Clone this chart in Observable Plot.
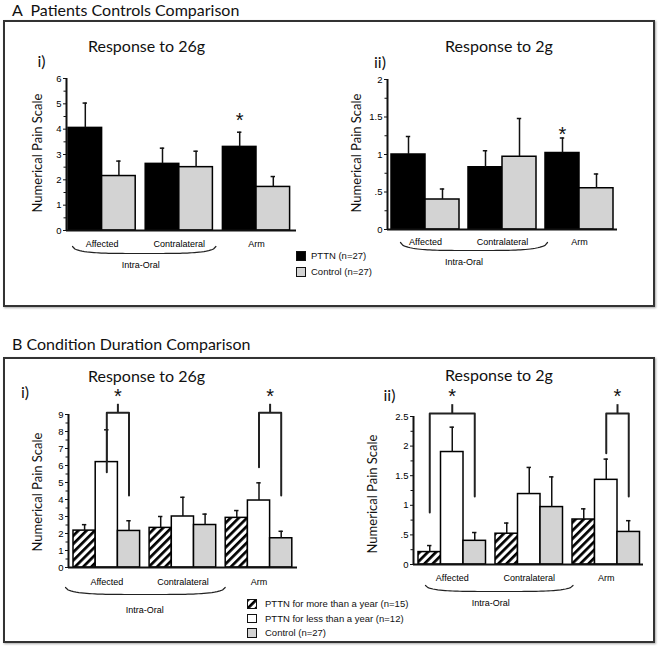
<!DOCTYPE html>
<html><head><meta charset="utf-8">
<script src="https://cdn.jsdelivr.net/npm/d3@7"></script>
<script src="https://cdn.jsdelivr.net/npm/@observablehq/plot@0.6"></script>
<style>
body{margin:0;background:#fff;}
#fig{position:relative;width:658px;height:647px;overflow:hidden;font-family:Lato,"Open Sans",sans-serif;color:#111;background:#fff;}
.abs{position:absolute;white-space:pre;line-height:1;}
.box{position:absolute;border:2px solid #333;box-sizing:border-box;box-shadow:1px 1px 2px rgba(0,0,0,.35);pointer-events:none;}
.head{font-size:16px;transform:translateY(-50%);}
.sub{font-size:16px;transform:translate(-50%,-50%);}
.ylab{font-size:13px;transform:translate(-50%,-50%) rotate(-90deg);}
.leg{font-family:"Liberation Sans",Arial,sans-serif;font-size:9.5px;transform:translateY(-50%);}
.sw{position:absolute;box-sizing:border-box;border:1.5px solid #111;}
</style></head>
<body>
<svg width="0" height="0" style="position:absolute">
  <defs>
    <pattern id="hatch" patternUnits="userSpaceOnUse" width="5.8" height="5.8" patternTransform="rotate(45)">
      <rect width="5.8" height="5.8" fill="#fff"></rect>
      <rect x="0" y="0" width="2.7" height="5.8" fill="#000"></rect>
    </pattern>
  </defs>
</svg>
<div id="fig"></div>
<script>
// ---------------- data ----------------
const sites = ["Affected", "Contralateral", "Arm"];
const regionLabel = "Intra-Oral";
const yLabel = "Numerical Pain Scale";

// Panel A: patients vs controls
const groupsA = ["PTTN (n=27)", "Control (n=27)"];
const a26_pttn_mean = [4.05, 2.63, 3.30];
const a26_pttn_sem  = [0.98, 0.62, 0.58];
const a26_ctrl_mean = [2.15, 2.50, 1.72];
const a26_ctrl_sem  = [0.59, 0.63, 0.41];
const a2_pttn_mean  = [1.00, 0.83, 1.02];
const a2_pttn_sem   = [0.24, 0.22, 0.20];
const a2_ctrl_mean  = [0.40, 0.97, 0.55];
const a2_ctrl_sem   = [0.14, 0.51, 0.19];

// Panel B: condition duration
const groupsB = ["PTTN for more than a year (n=15)", "PTTN for less than a year (n=12)", "Control (n=27)"];
const b26_more_mean = [2.17, 2.33, 2.92];
const b26_more_sem  = [0.35, 0.67, 0.43];
const b26_less_mean = [6.20, 3.00, 3.94];
const b26_less_sem  = [1.90, 1.13, 1.04];
const b26_ctrl_mean = [2.15, 2.50, 1.72];
const b26_ctrl_sem  = [0.60, 0.64, 0.41];
const b2_more_mean  = [0.21, 0.52, 0.76];
const b2_more_sem   = [0.11, 0.18, 0.18];
const b2_less_mean  = [1.90, 1.19, 1.43];
const b2_less_sem   = [0.42, 0.45, 0.35];
const b2_ctrl_mean  = [0.40, 0.97, 0.55];
const b2_ctrl_sem   = [0.14, 0.51, 0.19];

// tick values
const ticks26A = [0, 1, 2, 3, 4, 5, 6];
const ticks2A  = [0, 0.5, 1, 1.5, 2];
const ticks26B = [0, 1, 2, 3, 4, 5, 6, 7, 8, 9];
const ticks2B  = [0, 0.5, 1, 1.5, 2, 2.5];

// significance markers (site index, bar index, star height)
const starsA26 = [{site: 2, bar: 0, y: 4.5}];
const starsA2  = [{site: 2, bar: 0, y: 1.32}];
const bracketsB26 = [
  {site: 0, from: 1, to: 2, top: 9.1, stem: 9.6, star: 10.3, leftEnd: 5.6, rightEnd: 4.23},
  {site: 2, from: 1, to: 2, top: 9.1, stem: 9.6, star: 10.3, leftEnd: 5.9, rightEnd: 4.23}
];
const bracketsB2 = [
  {site: 0, from: 0, to: 2, top: 2.55, stem: 2.70, star: 2.9, leftEnd: 0.88, rightEnd: 1.15},
  {site: 2, from: 1, to: 2, top: 2.55, stem: 2.70, star: 2.9, leftEnd: 1.88, rightEnd: 1.15}
];

// ---------------- helpers ----------------
const fig = document.getElementById("fig");
const fmtDec = d => d === 0 ? "0" : (d < 1 ? String(d).replace(/^0/, "") : String(d));

function chart(cfg, series, stars, brackets) {
  const nb = series.length;
  const gapU = cfg.gapPx / cfg.barW;
  const xmin = -(cfg.firstBar - cfg.axisX) / cfg.barW;
  const xmax = xmin + (cfg.axisEnd - cfg.axisX) / cfg.barW;
  const pxU = (cfg.y0 - cfg.yTop) / cfg.ymax;
  const gx = g => g * (nb + gapU);
  const bc = (g, b) => gx(g) + b + 0.5;
  const rows = [];
  series.forEach((s, b) => s.mean.forEach((m, g) => rows.push({g, b, mean: m, hi: m + s.sem[g]})));
  const capU = 2.2 / cfg.barW;
  const ink = "#111";
  const marks = [];
  series.forEach((s, b) => {
    marks.push(Plot.rect(rows.filter(r => r.b === b), {
      x1: r => gx(r.g) + r.b, x2: r => gx(r.g) + r.b + 1, y1: 0, y2: "mean",
      fill: s.fill, stroke: "#000", strokeWidth: 1.5
    }));
  });
  marks.push(Plot.ruleX(rows, {x: r => bc(r.g, r.b), y1: "mean", y2: "hi", stroke: ink, strokeWidth: 1.5}));
  marks.push(Plot.ruleY(rows, {y: "hi", x1: r => bc(r.g, r.b) - capU, x2: r => bc(r.g, r.b) + capU, stroke: ink, strokeWidth: 1.5}));
  // axes
  marks.push(Plot.axisY(cfg.minor, {anchor: "left", tickSize: 2.5, tickFormat: () => "", label: null, stroke: ink}));
  marks.push(Plot.axisY(cfg.ticks, {anchor: "left", tickSize: 3, tickPadding: 2, tickFormat: cfg.fmt, label: null, stroke: ink, fontSize: 9.5, fill: "#000"}));
  marks.push(Plot.ruleX([xmin], {stroke: ink, strokeWidth: 2}));
  marks.push(Plot.ruleY([0], {stroke: ink, strokeWidth: 2}));
  // category labels
  marks.push(Plot.text(sites, {x: (d, i) => gx(i) + nb / 2, y: 0, dy: cfg.labDy, text: d => d, fontSize: 9, fill: "#000"}));
  // intra-oral arc and label
  const ax1 = gx(0) + cfg.arcDx1 / cfg.barW, ax2 = gx(1) + nb + cfg.arcDx2 / cfg.barW;
  const arc = d3.range(0, 61).map(k => {
    const t = k / 60, u = Math.abs(2 * t - 1);
    return {x: ax1 + (ax2 - ax1) * t, y: -(cfg.arcEnd + (cfg.arcMid - cfg.arcEnd) * Math.sqrt(1 - Math.pow(u, 4))) / pxU};
  });
  marks.push(Plot.line(arc, {x: "x", y: "y", stroke: "#222", strokeWidth: 1.2}));
  marks.push(Plot.text([regionLabel], {x: (gx(0) + gx(1) + nb) / 2, y: 0, dy: cfg.ioDy, text: d => d, fontSize: 9, fill: "#000"}));
  // stars
  if (stars) marks.push(Plot.text(stars, {x: s => bc(s.site, s.bar), y: "y", text: () => "*", fontSize: 20, fill: ink, dy: 4}));
  if (brackets) {
    const pts = [];
    brackets.forEach((br, k) => {
      const L = bc(br.site, br.from), R = bc(br.site, br.to);
      pts.push({k, x: L, y: br.leftEnd}, {k, x: L, y: br.top}, {k, x: R, y: br.top}, {k, x: R, y: br.rightEnd});
    });
    marks.push(Plot.line(pts, {x: "x", y: "y", z: "k", stroke: "#222", strokeWidth: 2}));
    marks.push(Plot.ruleX(brackets, {x: br => (bc(br.site, br.from) + bc(br.site, br.to)) / 2, y1: "top", y2: "stem", stroke: "#222", strokeWidth: 2}));
    marks.push(Plot.text(brackets, {x: br => (bc(br.site, br.from) + bc(br.site, br.to)) / 2, y: "star", text: () => "*", fontSize: 20, fill: ink, dy: 4}));
  }
  const svg = Plot.plot({
    width: cfg.width, height: cfg.height,
    marginLeft: cfg.axisX - cfg.left, marginRight: cfg.left + cfg.width - cfg.axisEnd,
    marginTop: cfg.yTop - cfg.top, marginBottom: cfg.top + cfg.height - cfg.y0,
    x: {type: "linear", domain: [xmin, xmax], axis: null},
    y: {domain: [0, cfg.ymax]},
    style: {background: "transparent", overflow: "visible", fontFamily: "'Liberation Sans', Arial, sans-serif", fontSize: "9px", color: "#111"},
    marks
  });
  svg.style.position = "absolute";
  svg.style.left = cfg.left + "px";
  svg.style.top = cfg.top + "px";
  fig.appendChild(svg);
}

function addText(cls, txt, x, y) {
  const d = document.createElement("div");
  d.className = "abs " + cls;
  d.textContent = txt;
  d.style.left = x + "px";
  d.style.top = y + "px";
  fig.appendChild(d);
}
function addBox(x1, y1, x2, y2) {
  const d = document.createElement("div");
  d.className = "box";
  Object.assign(d.style, {left: x1 + "px", top: y1 + "px", width: (x2 - x1) + "px", height: (y2 - y1) + "px"});
  fig.appendChild(d);
}
function addSwatch(x, y, s, fill) {
  const d = document.createElement("div");
  d.className = "sw";
  Object.assign(d.style, {left: x + "px", top: y + "px", width: s + "px", height: s + "px"});
  if (fill === "hatch") {
    d.innerHTML = `<svg width="${s}" height="${s}" style="display:block;position:absolute;left:-1.5px;top:-1.5px"><rect width="${s}" height="${s}" fill="url(#hatch)"/></svg>`;
    d.style.overflow = "hidden";
  } else d.style.background = fill;
  fig.appendChild(d);
}

const fillsA = ["#000", "#d3d3d3"];
const fillsB = ["url(#hatch)", "#fff", "#d3d3d3"];

// ---------------- charts ----------------
chart({left: 0, top: 0, width: 330, height: 320, axisX: 66, axisEnd: 296, y0: 230, yTop: 78, ymax: 6,
       firstBar: 68, barW: 33.6, gapPx: 10, ticks: ticks26A, minor: d3.range(0.5, 6, 1), fmt: fmtDec,
       labDy: 14, ioDy: 35, arcDx1: 4, arcDx2: 3, arcEnd: 16, arcMid: 23},
      [{mean: a26_pttn_mean, sem: a26_pttn_sem, fill: fillsA[0]}, {mean: a26_ctrl_mean, sem: a26_ctrl_sem, fill: fillsA[1]}],
      starsA26, null);
chart({left: 330, top: 0, width: 328, height: 320, axisX: 387, axisEnd: 617, y0: 229, yTop: 79, ymax: 2,
       firstBar: 391, barW: 34, gapPx: 9, ticks: ticks2A, minor: d3.range(0.25, 2, 0.5), fmt: fmtDec,
       labDy: 13, ioDy: 33, arcDx1: 9, arcDx2: 11, arcEnd: 13, arcMid: 21},
      [{mean: a2_pttn_mean, sem: a2_pttn_sem, fill: fillsA[0]}, {mean: a2_ctrl_mean, sem: a2_ctrl_sem, fill: fillsA[1]}],
      starsA2, null);
chart({left: 0, top: 320, width: 330, height: 327, axisX: 68, axisEnd: 297, y0: 567, yTop: 414, ymax: 9,
       firstBar: 73, barW: 22.2, gapPx: 9.5, ticks: ticks26B, minor: d3.range(0.5, 9, 1), fmt: fmtDec,
       labDy: 15, ioDy: 43, arcDx1: -8, arcDx2: 9, arcEnd: 20, arcMid: 27},
      [{mean: b26_more_mean, sem: b26_more_sem, fill: fillsB[0]}, {mean: b26_less_mean, sem: b26_less_sem, fill: fillsB[1]}, {mean: b26_ctrl_mean, sem: b26_ctrl_sem, fill: fillsB[2]}],
      null, bracketsB26);
chart({left: 330, top: 320, width: 328, height: 327, axisX: 413, axisEnd: 643, y0: 564, yTop: 416, ymax: 2.5,
       firstBar: 418, barW: 22.5, gapPx: 9.5, ticks: ticks2B, minor: d3.range(0.25, 2.5, 0.5), fmt: fmtDec,
       labDy: 14, ioDy: 39, arcDx1: 7, arcDx2: 10, arcEnd: 21, arcMid: 27},
      [{mean: b2_more_mean, sem: b2_more_sem, fill: fillsB[0]}, {mean: b2_less_mean, sem: b2_less_sem, fill: fillsB[1]}, {mean: b2_ctrl_mean, sem: b2_ctrl_sem, fill: fillsB[2]}],
      null, bracketsB2);

// ---------------- titles, labels, boxes, legends ----------------
addText("head", "A  Patients Controls Comparison", 12, 10);
addText("head", "B Condition Duration Comparison", 12, 344);
addText("sub", "Response to 26g", 146.5, 46);
addText("sub", "Response to 2g", 499, 46);
addText("sub", "Response to 26g", 146.5, 376);
addText("sub", "Response to 2g", 499, 375);
addText("sub", "i)", 41.5, 61);
addText("sub", "ii)", 380, 62);
addText("sub", "i)", 25, 392);
addText("sub", "ii)", 389.5, 395);
addText("ylab", yLabel, 37, 153);
addText("ylab", yLabel, 356, 153);
addText("ylab", yLabel, 37, 492);
addText("ylab", yLabel, 372, 494);

addBox(3, 20, 655, 307);
addBox(3, 357, 655, 643);

// legend A
groupsA.forEach((name, i) => {
  addSwatch(296, 251 + i * 16, 10, fillsA[i]);
  addText("leg", name, 311, 256 + i * 16);
});
// legend B
const legBFill = ["hatch", "#fff", "#d3d3d3"];
groupsB.forEach((name, i) => {
  addSwatch(247, 599 + i * 14.5, 9.5, legBFill[i]);
  addText("leg", name, 265, 604 + i * 14.5);
});
</script>
</body></html>
